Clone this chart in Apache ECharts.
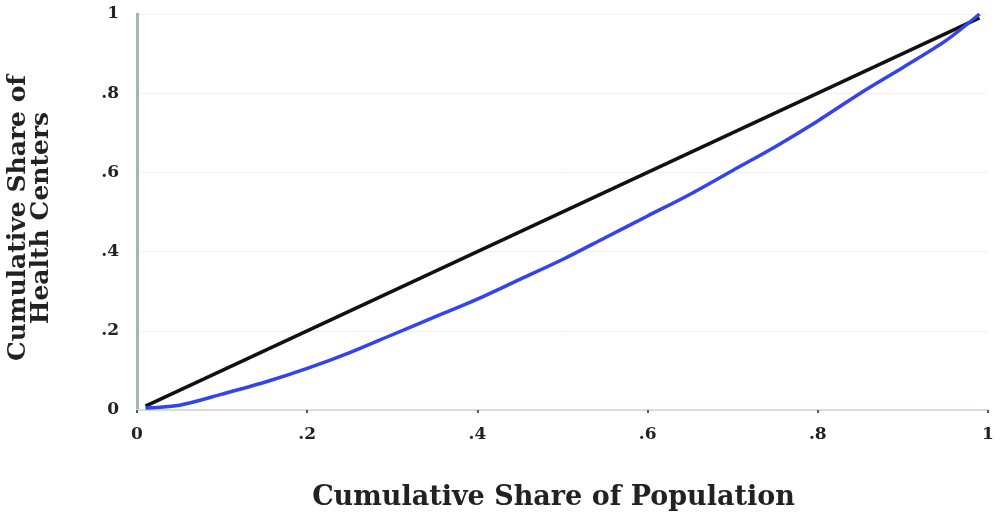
<!DOCTYPE html>
<html><head><meta charset="utf-8">
<script src="https://cdn.jsdelivr.net/npm/echarts@6/dist/echarts.min.js"></script>
<style>html,body{margin:0;padding:0;background:#fff}#c{width:1000px;height:515px}</style>
</head><body><div id="c"></div>
<script>
const tickValues = [0, 0.2, 0.4, 0.6, 0.8, 1];
const tickLabels = ['0', '.2', '.4', '.6', '.8', '1'];
const equalityX = [0.01, 0.99];
const equalityY = [0.01, 0.99];
const lorenzX = [0.01, 0.05, 0.1, 0.15, 0.2, 0.25, 0.3, 0.35, 0.4, 0.45, 0.5, 0.55, 0.6, 0.65, 0.7, 0.75, 0.8, 0.85, 0.9, 0.95, 0.99];
const lorenzY = [0.005, 0.012, 0.04, 0.07, 0.105, 0.145, 0.19, 0.235, 0.28, 0.33, 0.38, 0.435, 0.49, 0.545, 0.605, 0.665, 0.73, 0.8, 0.865, 0.932, 1.0];

const fmt = v => { const i = tickValues.findIndex(t => Math.abs(t - v) < 1e-9); return i >= 0 ? tickLabels[i] : ''; };
const font = 'DejaVu Serif';
const chart = echarts.init(document.getElementById('c'));
chart.setOption({
  animation: false,
  backgroundColor: '#fff',
  grid: { left: 137, right: 12, top: 14, bottom: 105, containLabel: false, outerBoundsMode: 'none' },
  xAxis: {
    type: 'value', min: 0, max: 1, interval: 0.2,
    name: 'Cumulative Share of Population', nameLocation: 'middle', nameGap: 74,
    nameTextStyle: { fontFamily: font, fontWeight: 'bold', fontSize: 27, color: '#222', padding: [0, 18, 0, 0] },
    axisLine: { lineStyle: { color: '#d3dede', width: 2 } },
    axisTick: { show: true, length: 3, lineStyle: { color: '#556', width: 2 } },
    axisLabel: { formatter: fmt, fontFamily: font, fontWeight: 'bold', fontSize: 17, color: '#222', margin: 16 },
    splitLine: { show: false }
  },
  yAxis: {
    type: 'value', min: 0, max: 1, interval: 0.2,
    name: 'Cumulative Share of\nHealth Centers', nameLocation: 'middle', nameGap: 84, nameRotate: 90,
    nameTextStyle: { fontFamily: font, fontWeight: 'bold', fontSize: 25, color: '#222', lineHeight: 23, padding: [0, 12, 0, 0] },
    axisLine: { show: true, lineStyle: { color: '#a3b5b5', width: 3 } },
    axisTick: { show: false },
    axisLabel: { formatter: fmt, fontFamily: font, fontWeight: 'bold', fontSize: 17, color: '#222', margin: 18 },
    splitLine: { show: true, lineStyle: { color: '#eef2f2', width: 1 } }
  },
  series: [
    { type: 'line', data: equalityX.map((x, i) => [x, equalityY[i]]), showSymbol: false,
      lineStyle: { color: '#111', width: 3.5 } },
    { type: 'line', data: lorenzX.map((x, i) => [x, lorenzY[i]]), showSymbol: false, smooth: 0.3,
      lineStyle: { color: '#3344ee', width: 3.5 } }
  ]
});
</script></body></html>
